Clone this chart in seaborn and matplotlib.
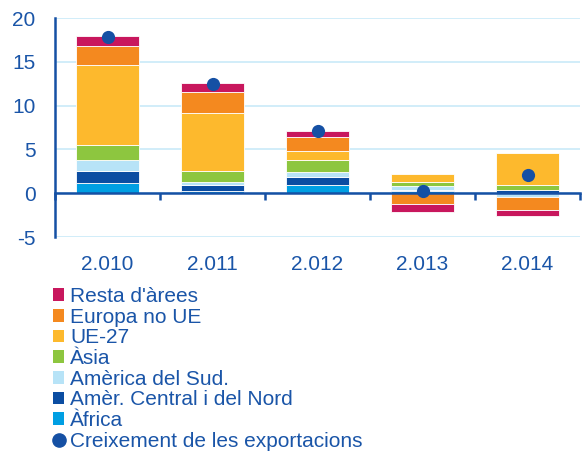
import numpy as np
import pandas as pd
import matplotlib.pyplot as plt
import seaborn as sns
from matplotlib.patches import Patch
from matplotlib.lines import Line2D

# values (percentage points)
years = ['2.010', '2.011', '2.012', '2.013', '2.014']
africa = [1.2, 0.2, 0.95, 0.2, 0.0]
amer_central = [1.35, 0.7, 0.85, 0.2, 0.4]
amer_sud = [1.2, 0.35, 0.65, 0.4, -0.45]
asia = [1.75, 1.25, 1.3, 0.5, 0.5]
ue27 = [9.1, 6.7, 1.1, 0.9, 3.65]
europa_no_ue = [2.2, 2.4, 1.55, -1.2, -1.45]
resta = [1.15, 0.95, 0.75, -0.9, -0.65]
growth = [17.8, 12.45, 7.15, 0.2, 2.1]

labels = ['Àfrica', 'Amèr. Central i del Nord', 'Amèrica del Sud.', 'Àsia',
          'UE-27', 'Europa no UE', "Resta d'àrees"]
values = [africa, amer_central, amer_sud, asia, ue27, europa_no_ue, resta]
colors = ['#009FE3', '#0B4DA2', '#B7E3F7', '#8DC63F',
          '#FDB92D', '#F4891F', '#C8175D']

blue = '#1550A4'
text_blue = '#1A55A8'
grid_blue = '#C9EAF8'

sns.set_style('white')
plt.rcParams['font.family'] = ['Liberation Sans', 'DejaVu Sans']
plt.rcParams['axes.unicode_minus'] = False

fig = plt.figure(figsize=(5.84, 4.57), dpi=100)
ax = fig.add_axes([55 / 584, 1 - 237 / 457, 525 / 584, 219 / 457])

pos_base = np.zeros(len(years))
neg_base = np.zeros(len(years))
for lab, vals, col in zip(labels, values, colors):
    v = np.array(vals, dtype=float)
    bottom = np.where(v >= 0, pos_base, neg_base)
    df = pd.DataFrame({'year': years, 'value': v})
    sns.barplot(data=df, x='year', y='value', order=years, bottom=bottom,
                color=col, saturation=1, width=0.6, errorbar=None,
                edgecolor='white', linewidth=0.6, ax=ax, zorder=2)
    pos_base = pos_base + np.clip(v, 0, None)
    neg_base = neg_base + np.clip(v, None, 0)

sns.stripplot(x=years, y=growth, order=years, jitter=False, color=blue,
              size=9.5, linewidth=0, ax=ax, zorder=5)

ax.set_xlim(-0.5, len(years) - 0.5)
ax.set_ylim(-5, 20)
ax.set_yticks(np.arange(-5, 21, 5))
ax.set_xlabel('')
ax.set_ylabel('')
ax.yaxis.grid(True, color=grid_blue, lw=1.2)
ax.set_axisbelow(True)

for s in ['top', 'right', 'bottom']:
    ax.spines[s].set_visible(False)
ax.spines['left'].set_color(blue)
ax.spines['left'].set_linewidth(1.8)
ax.tick_params(axis='y', direction='out', length=4, width=1.8, color=blue,
               labelcolor=text_blue, labelsize=15, pad=10)
ax.tick_params(axis='x', length=0, pad=13, labelsize=15, labelcolor=text_blue)

# zero line with ticks at category boundaries
zero_loc = (0 - ax.get_ylim()[0]) / (ax.get_ylim()[1] - ax.get_ylim()[0])
sec = ax.secondary_xaxis(zero_loc)
sec.set_xticks(np.arange(len(years) + 1) - 0.5)
sec.xaxis.set_ticks_position('bottom')
sec.tick_params(axis='x', direction='out', length=5, width=1.8, color=blue,
                labelbottom=False, labeltop=False)
sec.spines['bottom'].set_color(blue)
sec.spines['bottom'].set_linewidth(1.8)
sec.spines['top'].set_visible(False)
sec.set_zorder(3)

handles = [Patch(facecolor=c, edgecolor='none') for c in colors][::-1]
handles.append(Line2D([], [], marker='o', ls='', color=blue, markersize=9.5))
leg_labels = labels[::-1] + ['Creixement de les exportacions']
fig.legend(handles, leg_labels, loc='upper left',
           bbox_to_anchor=(53 / 584, 1 - 287 / 457), frameon=False,
           fontsize=15, handlelength=0.55, handleheight=0.55,
           handletextpad=0.27, labelspacing=0.08, borderpad=0,
           borderaxespad=0, labelcolor=text_blue)

fig.savefig('out.png', dpi=100)
plt.close(fig)
